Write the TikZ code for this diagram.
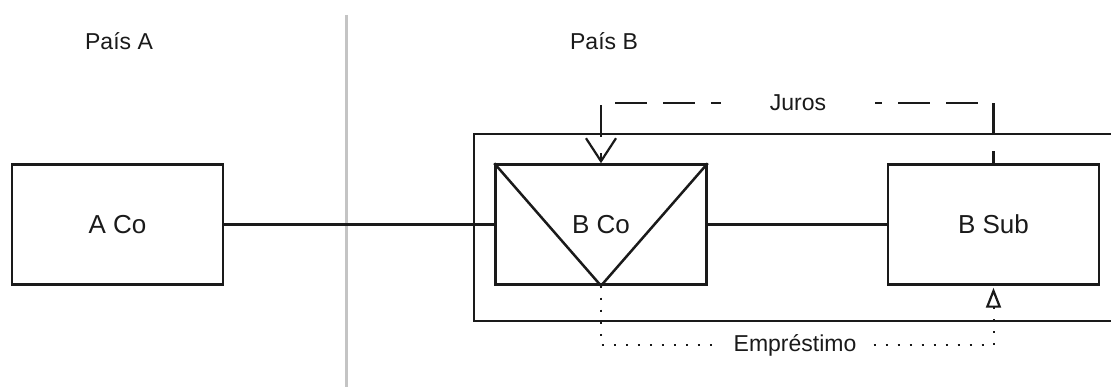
\documentclass[tikz,border=0pt]{standalone}
\usepackage{fontspec}
\setmainfont{Liberation Sans}
\usetikzlibrary{arrows.meta}
\definecolor{divider}{HTML}{C4C4C4}
\definecolor{ink}{HTML}{1A1A1A}
\begin{document}
\begin{tikzpicture}[x=1pt,y=-1pt,
  every node/.style={font=\fontsize{23}{27}\selectfont, text=ink},
  entity/.style={draw=ink, line width=2.5pt, minimum width=211pt, minimum height=120pt, inner sep=0pt, font=\fontsize{26}{30}\selectfont},
  link/.style={draw=ink, line width=2.3pt},
  lbl/.style={fill=white, inner sep=0pt, minimum height=24pt},
  juroline/.style={draw=ink, line width=2.6pt, dash pattern=on 32pt off 16pt},
  loanline/.style={draw=ink, line width=2pt, dash pattern=on 2pt off 10pt}
]
\useasboundingbox (0,0) rectangle (1111,387);
\fill[white] (0,0) rectangle (1111,387);

% country divider
\draw[divider, line width=3pt] (346,15) -- (346,387);

% country labels
\node (paisa) at (119,41) {País A};
\node (paisb) at (604,41) {País B};

% container of country B group
\draw[ink, line width=1.3pt] (1115,134) -- (474,134) -- (474,321) -- (1115,321);

% entities
\node[entity] (aco) at (117.5,224.5) {A Co};
\node[entity] (bco) at (601,224.5) {B Co};
\node[entity] (bsub) at (993.5,224.5) {B Sub};
\draw[ink, line width=2.5pt] (bco.north west) -- (bco.south) -- (bco.north east);

% ownership links
\draw[link] (aco.east) -- (bco.west);
\draw[link] (bco.east) -- (bsub.west);

% Juros flow
\node[lbl, minimum width=154pt] (juros) at (798,103) {Juros};
\draw[juroline, dash phase=20pt] (bsub.north) |- (juros.east);
\draw[juroline, dash phase=22pt, -{Straight Barb[length=23pt, width=30pt, line width=2.2pt]}] (juros.west) -| (bco.north);

% Emprestimo flow
\node[lbl, minimum width=157pt] (emp) at (795,345) {Empréstimo};
\draw[loanline] (bco.south) |- (emp.west);
\draw[loanline, shorten >=2pt, -{Triangle[open, length=20pt, width=15pt, line width=2.2pt]}] (emp.east) -| (bsub.south);
\end{tikzpicture}
\end{document}
